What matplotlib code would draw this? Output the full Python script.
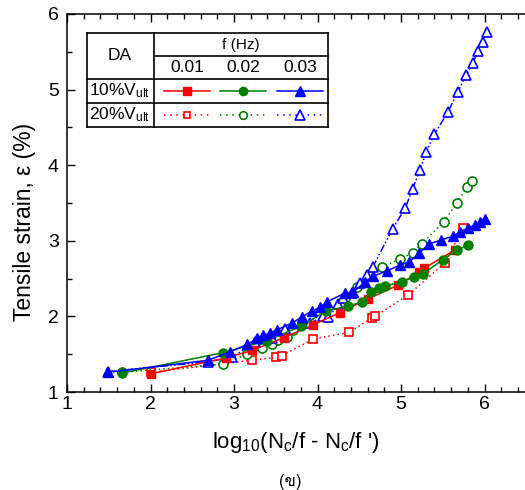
import numpy as np
import matplotlib
matplotlib.use("Agg")
import matplotlib.pyplot as plt
from matplotlib.lines import Line2D
from matplotlib.ticker import MultipleLocator
from matplotlib import font_manager, ft2font

plt.rcParams['font.family'] = ['Liberation Sans', 'DejaVu Sans', 'Noto Sans']
plt.rcParams['mathtext.fontset'] = 'custom'
plt.rcParams['mathtext.rm'] = 'Liberation Sans'
plt.rcParams['mathtext.it'] = 'Liberation Sans:italic'
plt.rcParams['mathtext.default'] = 'regular'

# 10% Vult, f = 0.01 / 0.02 / 0.03 Hz (filled markers, solid lines)
x_10_001 = [2.0, 2.9, 3.22, 3.6, 3.95, 4.27, 4.6, 4.96, 5.22, 5.28, 5.65]
y_10_001 = [1.24, 1.45, 1.55, 1.72, 1.89, 2.05, 2.23, 2.41, 2.59, 2.64, 2.88]

x_10_002 = [1.66, 2.87, 3.4, 3.8, 4.1, 4.37, 4.53, 4.64, 4.74, 4.81, 5.01, 5.16, 5.26, 5.5, 5.67, 5.8]
y_10_002 = [1.25, 1.52, 1.68, 1.87, 2.07, 2.14, 2.19, 2.32, 2.37, 2.4, 2.46, 2.52, 2.56, 2.75, 2.88, 2.94]

x_10_003 = [1.49, 2.69, 2.95, 3.16, 3.28, 3.35, 3.43, 3.51, 3.69, 3.81, 3.93, 4.03, 4.11,
            4.33, 4.43, 4.57, 4.66, 4.83, 4.99, 5.1, 5.22, 5.34, 5.48, 5.62, 5.71, 5.8, 5.89, 5.95, 6.0]
y_10_003 = [1.26, 1.42, 1.53, 1.63, 1.71, 1.75, 1.78, 1.82, 1.91, 1.99, 2.07, 2.12, 2.19,
            2.31, 2.32, 2.46, 2.53, 2.6, 2.68, 2.72, 2.84, 2.96, 3.01, 3.06, 3.12, 3.17, 3.21, 3.25, 3.29]

# 20% Vult (open markers, dotted lines)
x_20_001 = [2.0, 3.22, 3.5, 3.57, 3.95, 4.38, 4.65, 4.69, 5.08, 5.53, 5.74]
y_20_001 = [1.26, 1.42, 1.46, 1.48, 1.70, 1.79, 1.98, 2.0, 2.28, 2.71, 3.17]

x_20_002 = [1.66, 2.87, 3.16, 3.34, 3.46, 3.53, 3.63, 3.71, 4.09, 4.33, 4.47, 4.77, 4.99,
            5.14, 5.25, 5.51, 5.67, 5.79, 5.85]
y_20_002 = [1.26, 1.37, 1.5, 1.58, 1.64, 1.69, 1.73, 1.82, 2.05, 2.24, 2.39, 2.65, 2.76,
            2.84, 2.96, 3.25, 3.5, 3.71, 3.79]

x_20_003 = [1.49, 2.69, 2.98, 3.25, 3.46, 3.61, 3.91, 4.07, 4.13, 4.25, 4.31, 4.41, 4.51, 4.59,
            4.66, 4.9, 5.05, 5.14, 5.23, 5.3, 5.4, 5.56, 5.68, 5.78, 5.86, 5.92, 5.98, 6.03]
y_20_003 = [1.27, 1.40, 1.46, 1.66, 1.71, 1.83, 1.91, 2.0, 1.99, 2.16, 2.24, 2.31, 2.44, 2.55,
            2.65, 3.16, 3.43, 3.69, 3.94, 4.17, 4.41, 4.7, 4.97, 5.19, 5.35, 5.51, 5.63, 5.76]

freqs = ['0.01', '0.02', '0.03']
x_ticks = [1, 2, 3, 4, 5, 6]
colors = ['#ff0000', '#008000', '#0000ff']
markers = ['s', 'o', '^']
msizes = [6, 6.5, 7.5]
ls_20 = [(0, (1, 2)), (0, (1, 2)), (0, (5, 1.5, 1, 1.5, 1, 1.5))]

# find an installed font that has Thai glyphs for the caption
thai_family = None
for f in font_manager.fontManager.ttflist:
    try:
        if 0x0E02 in ft2font.FT2Font(f.fname).get_charmap():
            thai_family = f.name
            break
    except Exception:
        pass
caption_fams = ([thai_family] if thai_family else []) + ['Liberation Sans', 'DejaVu Sans']

fig = plt.figure(figsize=(5.25, 4.9), dpi=100)
ax = fig.add_axes([67 / 525, 0.2, (568 - 67) / 525, (392 - 14) / 490])

data10 = [(x_10_001, y_10_001), (x_10_002, y_10_002), (x_10_003, y_10_003)]
data20 = [(x_20_001, y_20_001), (x_20_002, y_20_002), (x_20_003, y_20_003)]

for i in range(3):
    ax.plot(data20[i][0], data20[i][1], linestyle=ls_20[i], color=colors[i], lw=1.1,
            marker=markers[i], ms=msizes[i], mfc='white', mec=colors[i], mew=1.2, zorder=2)
for i in range(3):
    ax.plot(data10[i][0], data10[i][1], linestyle='-', color=colors[i], lw=1.1,
            marker=markers[i], ms=msizes[i], mfc=colors[i], mec=colors[i], zorder=3)

ax.set_xlim(1, 7)
ax.set_ylim(1, 6)
ax.set_xticks(x_ticks)
ax.xaxis.set_minor_locator(MultipleLocator(0.2))
ax.yaxis.set_major_locator(MultipleLocator(1))
ax.yaxis.set_minor_locator(MultipleLocator(0.5))
ax.tick_params(which='both', direction='in', top=True, right=False, labelsize=14)
ax.tick_params(which='major', length=6, width=1)
ax.tick_params(which='minor', length=3.5, width=1)
ax.tick_params(axis='x', pad=3)
ax.tick_params(axis='y', pad=6)
ax.spines['right'].set_visible(False)
for s in ax.spines.values():
    s.set_linewidth(1.1)

fig.text(25 / 525, 1 - 222 / 490, 'Tensile strain, ε (%)', rotation=90,
         ha='center', va='center', fontsize=16.5)
fig.text(296 / 525, 1 - 442 / 490, "log$_{10}$(N$_c$/f - N$_c$/f ')",
         ha='center', va='center', fontsize=16)
fig.text(290 / 525, 1 - 482 / 490, '(ข)', ha='center', va='center', fontsize=12,
         family=caption_fams)

# table-style legend drawn in figure pixel coordinates
def fx(px):
    return px / 525

def fy(py):
    return 1 - py / 490

L, R, T, B = 87, 328, 33, 127
col_div = 154
box_lines = [
    ([L, R], [T, T]), ([L, R], [B, B]), ([L, L], [T, B]), ([R, R], [T, B]),
    ([col_div, col_div], [T, B]), ([L, R], [79, 79]), ([L, R], [103, 103]),
    ([col_div, R], [56, 56]),
]
for xs, ys in box_lines:
    fig.add_artist(Line2D([fx(v) for v in xs], [fy(v) for v in ys], color='black', lw=1.2))

fig.text(fx(120), fy(56), 'DA', ha='center', va='center', fontsize=12.5)
fig.text(fx(241), fy(45), 'f (Hz)', ha='center', va='center', fontsize=11)
col_x = [187, 243, 300]
for i in range(3):
    fig.text(fx(col_x[i]), fy(68), freqs[i], ha='center', va='center', fontsize=12.5)
fig.text(fx(120), fy(91), '10%V$_{ult}$', ha='center', va='center', fontsize=12.5)
fig.text(fx(120), fy(115), '20%V$_{ult}$', ha='center', va='center', fontsize=12.5)

for i in range(3):
    cx = col_x[i]
    fig.add_artist(Line2D([fx(cx - 23), fx(cx + 23)], [fy(91), fy(91)], color=colors[i], lw=1.1))
    fig.add_artist(Line2D([fx(cx)], [fy(91)], marker=markers[i], ms=msizes[i] - 0.5,
                          color=colors[i], lw=0))
    fig.add_artist(Line2D([fx(cx - 23), fx(cx + 23)], [fy(115), fy(115)], color=colors[i],
                          lw=1.1, linestyle=(0, (1, 3))))
    fig.add_artist(Line2D([fx(cx)], [fy(115)], marker=markers[i], ms=msizes[i] - 1,
                          mfc='white', mec=colors[i], mew=1.2, lw=0))

fig.savefig('out.png', dpi=100)
